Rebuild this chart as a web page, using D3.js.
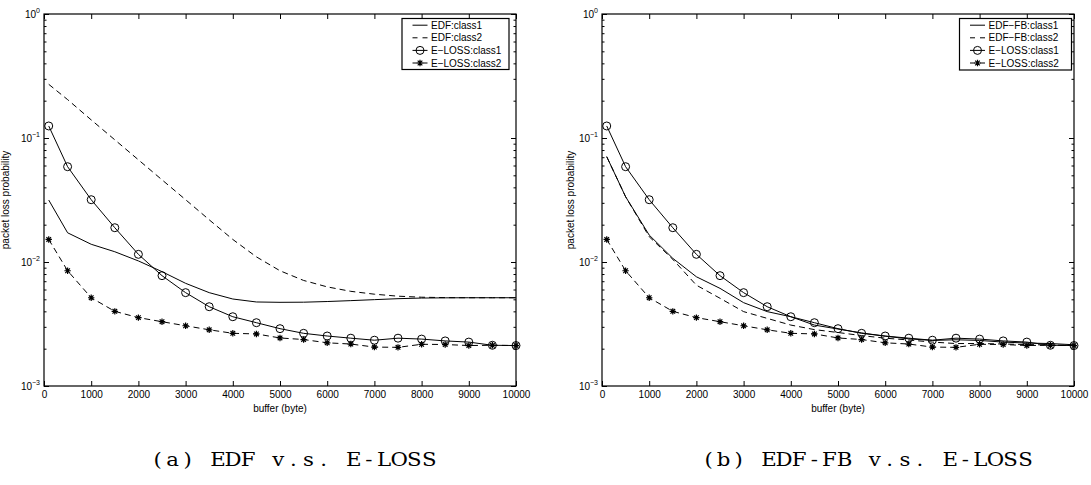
<!DOCTYPE html>
<html>
<head>
<meta charset="utf-8">
<script src="https://cdn.jsdelivr.net/npm/d3@7"></script>
<style>
  html, body { margin: 0; padding: 0; background: #fff; }
  svg { display: block; }
  text { font-family: "Liberation Sans", Arial, sans-serif; fill: #000; }
  text.caption { font-family: "DejaVu Serif", "Liberation Serif", serif; }
</style>
</head>
<body>
<svg id="chart" width="1091" height="485"></svg>
<script>
// buffer sizes (bytes) at which the loss probability was measured
const buffer = [100, 500, 1000, 1500, 2000, 2500, 3000, 3500, 4000, 4500, 5000,
                5500, 6000, 6500, 7000, 7500, 8000, 8500, 9000, 9500, 10000];

// packet loss probability per scheduler / class
const edfClass1 = [0.0316, 0.0172, 0.0139, 0.0121, 0.0102, 0.00836, 0.00673, 0.00566, 0.00503, 0.00476, 0.00473,
                   0.00474, 0.00480, 0.00488, 0.00497, 0.00506, 0.00512, 0.00514, 0.00515, 0.00515, 0.00515];
const edfClass2 = [0.271, 0.204, 0.140, 0.0967, 0.0667, 0.046, 0.0318, 0.0219, 0.0152, 0.0110, 0.0085,
                   0.0071, 0.0063, 0.0058, 0.0055, 0.0053, 0.0052, 0.00516, 0.00515, 0.00515, 0.00515];
const edfFbClass1 = [0.0707, 0.0336, 0.0165, 0.0107, 0.0076, 0.00613, 0.0047, 0.00398, 0.00362, 0.0031, 0.00288,
                     0.00268, 0.00252, 0.0024, 0.00233, 0.00236, 0.00233, 0.00226, 0.00222, 0.0022, 0.00215];
const edfFbClass2 = [0.0707, 0.0336, 0.016, 0.0105, 0.0065, 0.0051, 0.00398, 0.00351, 0.0031, 0.00285, 0.0027,
                     0.00255, 0.00243, 0.00235, 0.00226, 0.0022, 0.0022, 0.00218, 0.00216, 0.00214, 0.00212];
const elossClass1 = [0.125, 0.0587, 0.0318, 0.0189, 0.01153, 0.00776, 0.00566, 0.00436, 0.00362, 0.00324, 0.0029,
                     0.00266, 0.00253, 0.00243, 0.00234, 0.00243, 0.00239, 0.00231, 0.00226, 0.00213, 0.00212];
const elossClass2 = [0.0152, 0.0085, 0.00515, 0.0040, 0.00356, 0.0033, 0.00306, 0.00284, 0.00266, 0.00263, 0.00244,
                     0.00237, 0.00223, 0.00218, 0.00206, 0.00205, 0.00217, 0.00216, 0.00212, 0.00213, 0.00212];

// axis ticks and labels
const xTicks = [0, 1000, 2000, 3000, 4000, 5000, 6000, 7000, 8000, 9000, 10000];
const yDecades = [1e-3, 1e-2, 1e-1, 1];
const yDecadeExp = ["\u22123", "\u22122", "\u22121", "0"];
const xLabel = "buffer (byte)";
const yLabel = "packet loss probability";

// the two panels
const legendLeft = ["EDF:class1", "EDF:class2", "E\u2212LOSS:class1", "E\u2212LOSS:class2"];
const legendRight = ["EDF\u2212FB:class1", "EDF\u2212FB:class2", "E\u2212LOSS:class1", "E\u2212LOSS:class2"];
const captions = ["(a) EDF v.s. E-LOSS", "(b) EDF-FB v.s. E-LOSS"];

const seriesStyle = [
  { dash: null,  marker: null },
  { dash: "6,4", marker: null },
  { dash: null,  marker: "circle" },
  { dash: "6,4", marker: "star" }
];

const panels = [
  { x0: 44,  x1: 516,  series: [edfClass1, edfClass2, elossClass1, elossClass2], legend: legendLeft,
    legendBox: [402, 18.5, 107, 51], ylabX: 9, caption: captions[0], capX: 150 },
  { x0: 602, x1: 1074, series: [edfFbClass1, edfFbClass2, elossClass1, elossClass2], legend: legendRight,
    legendBox: [959.5, 18.5, 112, 51.5], ylabX: 574, caption: captions[1], capX: 701 }
];

const plotTop = 14, plotBottom = 386;
const captionPitch = 15.1;   // fixed character cell width for the typewriter-style captions
const captionStretch = 1.15; // widen the serif glyphs towards a typewriter look
const svg = d3.select("#chart");

function drawMarker(g, kind, cx, cy) {
  if (kind === "circle") {
    g.append("circle").attr("cx", cx).attr("cy", cy).attr("r", 4)
      .attr("fill", "none").attr("stroke", "#000").attr("stroke-width", 1);
  } else if (kind === "star") {
    const r = 3.2, d = r * 0.72;
    const p = `M${cx - r},${cy}L${cx + r},${cy}M${cx},${cy - r}L${cx},${cy + r}` +
              `M${cx - d},${cy - d}L${cx + d},${cy + d}M${cx - d},${cy + d}L${cx + d},${cy - d}`;
    g.append("path").attr("d", p).attr("stroke", "#000").attr("stroke-width", 1.2).attr("fill", "none");
  }
}

panels.forEach(p => {
  const x = d3.scaleLinear().domain([0, 10000]).range([p.x0, p.x1]);
  const y = d3.scaleLog().domain([1e-3, 1]).range([plotBottom, plotTop]);
  const minor = y.ticks().filter(v => !yDecades.some(d => Math.abs(d - v) / d < 1e-9));

  const g = svg.append("g");

  // ticks pointing into the plot on all four sides
  const tickStyle = sel => {
    sel.select(".domain").remove();
    sel.selectAll(".tick line").attr("stroke", "#000").attr("stroke-width", 1);
  };
  g.append("g").attr("transform", `translate(0,${plotBottom})`)
    .call(d3.axisBottom(x).tickValues(xTicks).tickFormat(d3.format("d"))
      .tickSizeInner(-5).tickSizeOuter(0).tickPadding(5))
    .call(tickStyle)
    .call(s => s.selectAll(".tick text").attr("font-size", 10).attr("fill", "#000"));
  g.append("g").attr("transform", `translate(0,${plotTop})`)
    .call(d3.axisTop(x).tickValues(xTicks).tickSizeInner(-5).tickSizeOuter(0).tickFormat(""))
    .call(tickStyle);
  g.append("g").attr("transform", `translate(${p.x0},0)`)
    .call(d3.axisLeft(y).tickValues(yDecades).tickSizeInner(-5).tickSizeOuter(0).tickFormat(""))
    .call(tickStyle);
  g.append("g").attr("transform", `translate(${p.x0},0)`)
    .call(d3.axisLeft(y).tickValues(minor).tickSizeInner(-2.5).tickSizeOuter(0).tickFormat(""))
    .call(tickStyle);
  g.append("g").attr("transform", `translate(${p.x1},0)`)
    .call(d3.axisRight(y).tickValues(yDecades).tickSizeInner(-5).tickSizeOuter(0).tickFormat(""))
    .call(tickStyle);
  g.append("g").attr("transform", `translate(${p.x1},0)`)
    .call(d3.axisRight(y).tickValues(minor).tickSizeInner(-2.5).tickSizeOuter(0).tickFormat(""))
    .call(tickStyle);

  // decade labels with superscript exponent
  yDecades.forEach((v, i) => {
    const t = g.append("text").attr("x", p.x0 - 4).attr("y", y(v) + 4.3)
      .attr("text-anchor", "end").attr("font-size", 10);
    t.append("tspan").text("10");
    t.append("tspan").attr("dy", -5.5).attr("font-size", 7).text(yDecadeExp[i]);
  });

  // frame
  g.append("rect").attr("x", p.x0).attr("y", plotTop)
    .attr("width", p.x1 - p.x0).attr("height", plotBottom - plotTop)
    .attr("fill", "none").attr("stroke", "#000").attr("stroke-width", 1.2);

  // axis titles
  g.append("text").attr("x", (p.x0 + p.x1) / 2).attr("y", 411.5)
    .attr("text-anchor", "middle").attr("font-size", 10).text(xLabel);
  g.append("text").attr("transform", `translate(${p.ylabX},200) rotate(-90)`)
    .attr("text-anchor", "middle").attr("font-size", 10).text(yLabel);

  // data lines and markers
  const line = d3.line().x((d, i) => x(buffer[i])).y(d => y(d));
  p.series.forEach((vals, si) => {
    const st = seriesStyle[si];
    g.append("path").datum(vals).attr("d", line)
      .attr("fill", "none").attr("stroke", "#000").attr("stroke-width", 1)
      .attr("stroke-dasharray", st.dash);
    if (st.marker) {
      vals.forEach((v, i) => drawMarker(g, st.marker, x(buffer[i]), y(v)));
    }
  });

  // legend
  const [lx, ly, lw, lh] = p.legendBox;
  g.append("rect").attr("x", lx).attr("y", ly).attr("width", lw).attr("height", lh)
    .attr("fill", "#fff").attr("stroke", "#000").attr("stroke-width", 1.2);
  p.legend.forEach((name, i) => {
    const cy = ly + 6.7 + i * 12.6;
    const sx0 = lx + 10.5, sx1 = lx + 25.5;
    const st = seriesStyle[i];
    g.append("line").attr("x1", sx0).attr("x2", sx1).attr("y1", cy).attr("y2", cy)
      .attr("stroke", "#000").attr("stroke-width", 1)
      .attr("stroke-dasharray", st.dash ? "5,5" : null);
    if (st.marker) drawMarker(g, st.marker, (sx0 + sx1) / 2, cy);
    g.append("text").attr("x", lx + 29).attr("y", cy + 3.6).attr("font-size", 10).text(name);
  });

  // sub-figure caption, each glyph centred in a fixed-width cell
  const cellX = Array.from(p.caption, (c, i) =>
    (captionPitch * (i + 0.5) / captionStretch).toFixed(2));
  svg.append("g").attr("transform", `translate(${p.capX},466) scale(${captionStretch},1)`)
    .append("text").attr("class", "caption")
    .attr("x", cellX.join(" ")).attr("y", 0)
    .attr("text-anchor", "middle").attr("font-size", 18.5)
    .text(p.caption);
});
</script>
</body>
</html>
